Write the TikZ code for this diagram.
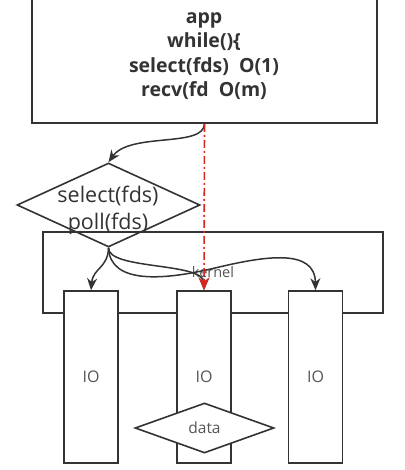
\documentclass[tikz,border=0pt]{standalone}
\usepackage{fontspec}
\setmainfont{Open Sans}
\usepackage{xcolor}
\usetikzlibrary{shapes.geometric,arrows.meta}
\definecolor{linegray}{HTML}{333333}
\definecolor{textgray}{HTML}{555555}
\definecolor{callred}{HTML}{D9261C}
\tikzset{
  box/.style={rectangle, draw=linegray, line width=1.6pt, fill=white, inner sep=0pt},
  diam/.style={diamond, draw=linegray, line width=1.6pt, inner sep=0pt},
  conn/.style={draw=linegray, line width=1.5pt, -{Stealth[length=12pt,width=10pt]}},
  call/.style={draw=callred, line width=1.6pt, dash pattern=on 8pt off 3pt on 2pt off 3pt,
    -{Stealth[length=13pt,width=11pt]}}
}
\begin{document}
\begin{tikzpicture}[x=1pt, y=-1pt]
\useasboundingbox (0,0) rectangle (404,470);
\node[box, minimum width=345pt, minimum height=126pt] (app) at (204.5,60) {};
\node[align=center, text=linegray, font=\fontsize{19.5}{24.3}\selectfont\bfseries] (apptext) at (204,56)
{app\\ while()\{\\ select(fds)\ \ O(1)\\ recv(fd\ \ O(m)};
\node[diam, minimum width=183pt, minimum height=84pt] (sel) at (108.5,205) {};
\node[align=center, text=linegray, font=\fontsize{21.5}{27}\selectfont] (seltext) at (108,210)
{select(fds)\\ poll(fds)};
\node[box, fill=none, minimum width=340pt, minimum height=81pt, text=textgray,
font=\fontsize{14.5}{16}\selectfont] (kernel) at (213,272.5) {kernel};
\node[box, minimum width=54pt, minimum height=172pt, text=textgray,
font=\fontsize{16}{18}\selectfont] (io1) at (91,377) {IO};
\node[box, minimum width=54pt, minimum height=172pt, text=textgray,
font=\fontsize{16}{18}\selectfont] (io2) at (204,377) {IO};
\node[box, minimum width=54pt, minimum height=172pt, text=textgray,
font=\fontsize{16}{18}\selectfont] (io3) at (315.5,377) {IO};
\node[diam, fill=white, minimum width=139pt, minimum height=50pt, text=textgray,
font=\fontsize{15.5}{17}\selectfont] (data) at (204.5,428) {data};
% calls
\draw[conn] (app.south) .. controls (204,148) and (130,132) .. (sel.north);
\draw[conn] (sel.south) .. controls (108,268) and (93,268) .. (io1.north);
\draw[conn] (sel.south) .. controls (108,270) and (204,262) .. (io2.north);
\draw[conn] (sel.south) .. controls (110,285) and (165,280) .. (215,268)
  .. controls (265,256) and (315,248) .. (io3.north);
\draw[call] (app.south) -- (io2.north);
\end{tikzpicture}
\end{document}
